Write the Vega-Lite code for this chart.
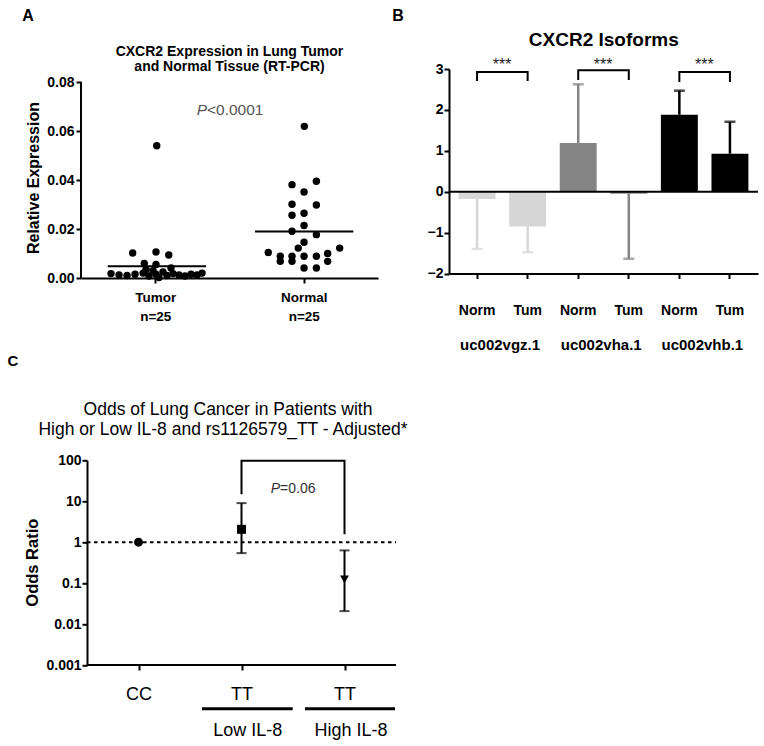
{
  "$schema": "https://vega.github.io/schema/vega-lite/v6.json",
  "padding": 0,
  "bounds": "flush",
  "spacing": 391.3,
  "config": {
    "font": "Liberation Sans",
    "view": {"stroke": null},
    "axis": {"domainColor": "black", "tickColor": "black", "labelColor": "black", "grid": false, "domainWidth": 2, "tickWidth": 2, "labelFont": "Liberation Sans"},
    "text": {"font": "Liberation Sans", "color": "black"}
  },
  "vconcat": [
    {
      "bounds": "flush",
      "spacing": 71,
      "hconcat": [
        {
          "width": 297,
          "height": 209,
          "data": {"values": [
            {"group": "Tumor", "pos": 1.01, "value": 0.054},
            {"group": "Tumor", "pos": 0.848, "value": 0.0102},
            {"group": "Tumor", "pos": 1.005, "value": 0.0106},
            {"group": "Tumor", "pos": 1.091, "value": 0.0094},
            {"group": "Tumor", "pos": 0.926, "value": 0.0059},
            {"group": "Tumor", "pos": 1.005, "value": 0.0055},
            {"group": "Tumor", "pos": 1.106, "value": 0.0041},
            {"group": "Tumor", "pos": 0.702, "value": 0.0018},
            {"group": "Tumor", "pos": 0.756, "value": 0.0012},
            {"group": "Tumor", "pos": 0.81, "value": 0.001},
            {"group": "Tumor", "pos": 0.864, "value": 0.0015},
            {"group": "Tumor", "pos": 0.918, "value": 0.002},
            {"group": "Tumor", "pos": 0.958, "value": 0.0008},
            {"group": "Tumor", "pos": 0.985, "value": 0.003},
            {"group": "Tumor", "pos": 1.005, "value": 0.0015},
            {"group": "Tumor", "pos": 1.025, "value": 0.0002},
            {"group": "Tumor", "pos": 1.052, "value": 0.0025},
            {"group": "Tumor", "pos": 1.079, "value": 0.001},
            {"group": "Tumor", "pos": 1.12, "value": 0.0018},
            {"group": "Tumor", "pos": 1.16, "value": 0.0012},
            {"group": "Tumor", "pos": 1.2, "value": 0.0008},
            {"group": "Tumor", "pos": 1.241, "value": 0.0015},
            {"group": "Tumor", "pos": 1.281, "value": 0.0012},
            {"group": "Tumor", "pos": 1.315, "value": 0.002},
            {"group": "Tumor", "pos": 0.938, "value": 0.0035},
            {"group": "Normal", "pos": 2.004, "value": 0.0619},
            {"group": "Normal", "pos": 1.921, "value": 0.0381},
            {"group": "Normal", "pos": 2.085, "value": 0.0395},
            {"group": "Normal", "pos": 2.002, "value": 0.0351},
            {"group": "Normal", "pos": 1.921, "value": 0.0301},
            {"group": "Normal", "pos": 2.085, "value": 0.0298},
            {"group": "Normal", "pos": 1.921, "value": 0.0256},
            {"group": "Normal", "pos": 2.002, "value": 0.0264},
            {"group": "Normal", "pos": 2.002, "value": 0.0214},
            {"group": "Normal", "pos": 1.921, "value": 0.0191},
            {"group": "Normal", "pos": 2.085, "value": 0.0177},
            {"group": "Normal", "pos": 2.002, "value": 0.0146},
            {"group": "Normal", "pos": 1.963, "value": 0.0122},
            {"group": "Normal", "pos": 2.242, "value": 0.0122},
            {"group": "Normal", "pos": 1.761, "value": 0.0104},
            {"group": "Normal", "pos": 1.842, "value": 0.0089},
            {"group": "Normal", "pos": 1.842, "value": 0.0068},
            {"group": "Normal", "pos": 1.921, "value": 0.0089},
            {"group": "Normal", "pos": 1.921, "value": 0.0068},
            {"group": "Normal", "pos": 2.002, "value": 0.0089},
            {"group": "Normal", "pos": 2.085, "value": 0.0089},
            {"group": "Normal", "pos": 2.161, "value": 0.01},
            {"group": "Normal", "pos": 2.161, "value": 0.0068},
            {"group": "Normal", "pos": 2.002, "value": 0.0041},
            {"group": "Normal", "pos": 2.085, "value": 0.0041}
          ]},
          "layer": [
            {
              "mark": {"type": "circle", "size": 55, "color": "black", "opacity": 1},
              "encoding": {
                "x": {"field": "pos", "type": "quantitative", "scale": {"domain": [0.5, 2.5], "nice": false, "zero": false},
                  "axis": {"values": [1, 2], "title": null, "labelExpr": "datum.value == 1 ? ['Tumor','n=25'] : ['Normal','n=25']", "labelFontSize": 13.5, "labelFontWeight": "bold", "labelPadding": 7, "labelLineHeight": 19.5, "tickSize": 5, "labelOverlap": false, "labelFlush": false}},
                "y": {"field": "value", "type": "quantitative", "scale": {"domain": [0, 0.08531], "nice": false, "zero": false},
                  "axis": {"values": [0, 0.02, 0.04, 0.06, 0.08], "format": ".2f", "title": null, "domain": false, "tickSize": 5, "labelFontSize": 14, "labelFontWeight": "bold", "labelPadding": 2}}
              }
            },
            {
              "data": {"values": [{}]},
              "mark": {"type": "point", "size": 1, "opacity": 0, "filled": true},
              "encoding": {"x": {"datum": -0.0387}, "y": {"datum": 0.11306}}
            },
            {
              "data": {"values": [{}]},
              "mark": {"type": "rule", "strokeWidth": 2, "color": "black"},
              "encoding": {"x": {"datum": 0.5}, "y": {"datum": 0}, "y2": {"datum": 0.08}}
            },
            {
              "data": {"values": [{}]},
              "mark": {"type": "rule", "strokeWidth": 2, "color": "black"},
              "encoding": {"x": {"datum": 0.68}, "x2": {"datum": 1.342}, "y": {"datum": 0.0048}}
            },
            {
              "data": {"values": [{}]},
              "mark": {"type": "rule", "strokeWidth": 2, "color": "black"},
              "encoding": {"x": {"datum": 1.672}, "x2": {"datum": 2.334}, "y": {"datum": 0.019}}
            },
            {
              "data": {"values": [{}]},
              "mark": {"type": "text", "text": "P", "fontStyle": "italic", "fontSize": 15.5, "align": "right", "baseline": "middle", "color": "#555555"},
              "encoding": {"x": {"datum": 1.3485}, "y": {"datum": 0.06845}}
            },
            {
              "data": {"values": [{}]},
              "mark": {"type": "text", "text": "<0.0001", "fontSize": 15.5, "align": "left", "baseline": "middle", "color": "#555555"},
              "encoding": {"x": {"datum": 1.3485}, "y": {"datum": 0.06845}}
            },
            {
              "data": {"values": [{}]},
              "mark": {"type": "text", "text": "CXCR2 Expression in Lung Tumor", "fontSize": 14, "fontWeight": "bold", "align": "center", "baseline": "middle"},
              "encoding": {"x": {"datum": 1.5}, "y": {"datum": 0.09225}}
            },
            {
              "data": {"values": [{}]},
              "mark": {"type": "text", "text": "and Normal Tissue (RT-PCR)", "fontSize": 14, "fontWeight": "bold", "align": "center", "baseline": "middle"},
              "encoding": {"x": {"datum": 1.5}, "y": {"datum": 0.08612}}
            },
            {
              "data": {"values": [{}]},
              "mark": {"type": "text", "text": "Relative Expression", "fontSize": 16, "fontWeight": "bold", "align": "center", "baseline": "middle", "angle": 270},
              "encoding": {"x": {"datum": 0.1835}, "y": {"datum": 0.0408}}
            },
            {
              "data": {"values": [{}]},
              "mark": {"type": "text", "text": "A", "fontSize": 16, "fontWeight": "bold", "align": "center", "baseline": "middle"},
              "encoding": {"x": {"datum": 0.143}, "y": {"datum": 0.10694}}
            }
          ]
        },
        {
          "width": 309,
          "height": 204.5,
          "data": {"values": [
            {"bar": "uc002vgz.1 Norm", "group": "uc002vgz.1", "value": -0.18, "err": -1.4},
            {"bar": "uc002vgz.1 Tum", "group": "uc002vgz.1", "value": -0.85, "err": -1.48},
            {"bar": "uc002vha.1 Norm", "group": "uc002vha.1", "value": 1.19, "err": 2.63},
            {"bar": "uc002vha.1 Tum", "group": "uc002vha.1", "value": -0.05, "err": -1.64},
            {"bar": "uc002vhb.1 Norm", "group": "uc002vhb.1", "value": 1.88, "err": 2.47},
            {"bar": "uc002vhb.1 Tum", "group": "uc002vhb.1", "value": 0.93, "err": 1.71}
          ]},
          "layer": [
            {
              "mark": {"type": "bar"},
              "encoding": {
                "x": {"field": "bar", "type": "nominal", "sort": null,
                  "scale": {"type": "band", "domain": ["uc002vgz.1 Norm", "uc002vgz.1 Tum", "uc002vha.1 Norm", "uc002vha.1 Tum", "uc002vhb.1 Norm", "uc002vhb.1 Tum"], "paddingInner": 0.27, "paddingOuter": 0.19},
                  "axis": {"title": null, "labelExpr": "split(datum.label, ' ')[1]", "labelAngle": 0, "labelFontSize": 14, "labelFontWeight": "bold", "labelPadding": 24.5, "tickSize": 5}},
                "y": {"field": "value", "type": "quantitative", "scale": {"domain": [-2, 3], "nice": false, "zero": false},
                  "axis": {"values": [-2, -1, 0, 1, 2, 3], "title": null, "tickSize": 5, "labelFontSize": 14, "labelFontWeight": "bold", "labelPadding": 1}},
                "color": {"field": "group", "type": "nominal", "legend": null,
                  "scale": {"domain": ["uc002vgz.1", "uc002vha.1", "uc002vhb.1"], "range": ["#d6d6d6", "#858585", "#000000"]}}
              }
            },
            {
              "mark": {"type": "rule", "strokeWidth": 2.5},
              "encoding": {
                "x": {"field": "bar", "type": "nominal"},
                "y": {"field": "value", "type": "quantitative"},
                "y2": {"field": "err"},
                "color": {"field": "group", "type": "nominal"}
              }
            },
            {
              "mark": {"type": "tick", "size": 11, "thickness": 2.5, "orient": "horizontal"},
              "encoding": {
                "x": {"field": "bar", "type": "nominal"},
                "y": {"field": "err", "type": "quantitative"},
                "color": {"field": "group", "type": "nominal"}
              }
            },
            {
              "data": {"values": [{}]},
              "mark": {"type": "rule", "strokeWidth": 2, "color": "black"},
              "encoding": {"y": {"datum": 0}}
            },
            {
              "data": {"values": [
                {"b": 1, "o": 1, "bar": "uc002vgz.1 Norm", "y": 2.707},
                {"b": 1, "o": 2, "bar": "uc002vgz.1 Norm", "y": 2.927},
                {"b": 1, "o": 3, "bar": "uc002vgz.1 Tum", "y": 2.927},
                {"b": 1, "o": 4, "bar": "uc002vgz.1 Tum", "y": 2.707},
                {"b": 2, "o": 1, "bar": "uc002vha.1 Norm", "y": 2.731},
                {"b": 2, "o": 2, "bar": "uc002vha.1 Norm", "y": 2.968},
                {"b": 2, "o": 3, "bar": "uc002vha.1 Tum", "y": 2.968},
                {"b": 2, "o": 4, "bar": "uc002vha.1 Tum", "y": 2.731},
                {"b": 3, "o": 1, "bar": "uc002vhb.1 Norm", "y": 2.682},
                {"b": 3, "o": 2, "bar": "uc002vhb.1 Norm", "y": 2.927},
                {"b": 3, "o": 3, "bar": "uc002vhb.1 Tum", "y": 2.927},
                {"b": 3, "o": 4, "bar": "uc002vhb.1 Tum", "y": 2.682}
              ]},
              "mark": {"type": "line", "strokeWidth": 2, "color": "black"},
              "encoding": {
                "x": {"field": "bar", "type": "nominal"},
                "y": {"field": "y", "type": "quantitative"},
                "detail": {"field": "b"},
                "order": {"field": "o"}
              }
            },
            {
              "data": {"values": [{"bar": "uc002vgz.1 Norm"}, {"bar": "uc002vha.1 Norm"}, {"bar": "uc002vhb.1 Norm"}]},
              "mark": {"type": "text", "text": "***", "fontSize": 16, "dx": 25, "align": "center", "baseline": "middle", "color": "#222222"},
              "encoding": {"x": {"field": "bar", "type": "nominal"}, "y": {"datum": 3.1}}
            },
            {
              "data": {"values": [{"bar": "uc002vgz.1 Norm", "group": "uc002vgz.1"}, {"bar": "uc002vha.1 Norm", "group": "uc002vha.1"}, {"bar": "uc002vhb.1 Norm", "group": "uc002vhb.1"}]},
              "mark": {"type": "text", "fontSize": 15, "fontWeight": "bold", "dx": 23, "align": "center", "baseline": "middle", "color": "black"},
              "encoding": {"x": {"field": "bar", "type": "nominal"}, "y": {"datum": -3.75}, "text": {"field": "group"}}
            },
            {
              "data": {"values": [{}]},
              "mark": {"type": "text", "text": "CXCR2 Isoforms", "fontSize": 19, "fontWeight": "bold", "dx": -25, "align": "center", "baseline": "middle", "color": "black"},
              "encoding": {"x": {"datum": "uc002vha.1 Tum", "type": "nominal"}, "y": {"datum": 3.709}}
            },
            {
              "data": {"values": [{}]},
              "mark": {"type": "text", "text": "B", "fontSize": 16, "fontWeight": "bold", "dx": -79, "align": "center", "baseline": "middle", "color": "black"},
              "encoding": {"x": {"datum": "uc002vgz.1 Norm", "type": "nominal"}, "y": {"datum": 4.296}}
            }
          ]
        }
      ]
    },
    {
      "width": 315,
      "height": 204.7,
      "data": {"values": [
        {"group": "CC", "pos": 1, "or": 1, "lo": null, "hi": null},
        {"group": "TT Low IL-8", "pos": 2, "or": 2.06, "lo": 0.54, "hi": 9.0},
        {"group": "TT High IL-8", "pos": 3, "or": 0.123, "lo": 0.0207, "hi": 0.63}
      ]},
      "layer": [
        {
          "data": {"values": [{}]},
          "mark": {"type": "rule", "strokeWidth": 2, "color": "black", "strokeDash": [3.5, 3.5]},
          "encoding": {"x": {"datum": 0.5}, "x2": {"datum": 3.5}, "y": {"datum": 1}}
        },
        {
          "mark": {"type": "point", "filled": true, "size": 80, "opacity": 1, "color": "black"},
          "encoding": {
            "x": {"field": "pos", "type": "quantitative", "scale": {"domain": [0.4417, 3.5], "nice": false, "zero": false},
              "axis": {"values": [1, 2, 3], "title": null, "labelExpr": "datum.value == 1 ? 'CC' : 'TT'", "domain": false, "tickSize": 5, "labelFontSize": 18, "labelPadding": 15, "labelFlush": false, "labelOverlap": false}},
            "y": {"field": "or", "type": "quantitative", "scale": {"type": "log", "domain": [0.001, 100], "nice": false},
              "axis": {"values": [0.001, 0.01, 0.1, 1, 10, 100], "format": "~g", "title": null, "offset": -6, "tickSize": 5, "labelFontSize": 14, "labelFontWeight": "bold", "labelPadding": 1}},
            "shape": {"field": "group", "type": "nominal", "legend": null,
              "scale": {"domain": ["CC", "TT Low IL-8", "TT High IL-8"], "range": ["circle", "square", "triangle-down"]}}
          }
        },
        {
          "transform": [{"filter": "isValid(datum.lo)"}],
          "mark": {"type": "rule", "strokeWidth": 2, "color": "black"},
          "encoding": {"x": {"field": "pos", "type": "quantitative"}, "y": {"field": "lo", "type": "quantitative"}, "y2": {"field": "hi"}}
        },
        {
          "transform": [{"filter": "isValid(datum.lo)"}],
          "mark": {"type": "tick", "orient": "horizontal", "size": 10, "thickness": 2, "color": "black"},
          "encoding": {"x": {"field": "pos", "type": "quantitative"}, "y": {"field": "lo", "type": "quantitative"}}
        },
        {
          "transform": [{"filter": "isValid(datum.hi)"}],
          "mark": {"type": "tick", "orient": "horizontal", "size": 10, "thickness": 2, "color": "black"},
          "encoding": {"x": {"field": "pos", "type": "quantitative"}, "y": {"field": "hi", "type": "quantitative"}}
        },
        {
          "data": {"values": [{}]},
          "mark": {"type": "rule", "strokeWidth": 2, "color": "black"},
          "encoding": {"x": {"datum": 0.5}, "x2": {"datum": 3.5}, "y": {"datum": 0.001}}
        },
        {
          "data": {"values": [
            {"o": 1, "pos": 2, "y": 14.8},
            {"o": 2, "pos": 2, "y": 97},
            {"o": 3, "pos": 3, "y": 97},
            {"o": 4, "pos": 3, "y": 1.56}
          ]},
          "mark": {"type": "line", "strokeWidth": 2, "color": "black"},
          "encoding": {"x": {"field": "pos", "type": "quantitative"}, "y": {"field": "y", "type": "quantitative"}, "order": {"field": "o"}}
        },
        {
          "data": {"values": [{}]},
          "mark": {"type": "text", "text": "P", "fontStyle": "italic", "fontSize": 14, "align": "right", "baseline": "middle", "color": "#333333"},
          "encoding": {"x": {"datum": 2.374}, "y": {"datum": 19.57}}
        },
        {
          "data": {"values": [{}]},
          "mark": {"type": "text", "text": "=0.06", "fontSize": 14, "align": "left", "baseline": "middle", "color": "#333333"},
          "encoding": {"x": {"datum": 2.374}, "y": {"datum": 19.57}}
        },
        {
          "data": {"values": [{}]},
          "mark": {"type": "text", "text": "Odds of Lung Cancer in Patients with", "fontSize": 17.5, "align": "center", "baseline": "middle"},
          "encoding": {"x": {"datum": 1.869}, "y": {"datum": 1663}}
        },
        {
          "data": {"values": [{}]},
          "mark": {"type": "text", "text": "High or Low IL-8 and rs1126579_TT - Adjusted*", "fontSize": 17.5, "align": "center", "baseline": "middle"},
          "encoding": {"x": {"datum": 1.82}, "y": {"datum": 549.6}}
        },
        {
          "data": {"values": [{}]},
          "mark": {"type": "text", "text": "Odds Ratio", "fontSize": 16.5, "fontWeight": "bold", "align": "center", "baseline": "middle", "angle": 270},
          "encoding": {"x": {"datum": -0.0214}, "y": {"datum": 0.3155}}
        },
        {
          "data": {"values": [{}]},
          "mark": {"type": "text", "text": "C", "fontSize": 15, "fontWeight": "bold", "align": "center", "baseline": "middle"},
          "encoding": {"x": {"datum": -0.2184}, "y": {"datum": 26640}}
        },
        {
          "data": {"values": [{}]},
          "mark": {"type": "rule", "strokeWidth": 3, "color": "black"},
          "encoding": {"x": {"datum": 1.6165}, "x2": {"datum": 2.497}, "y": {"datum": 0.0000857}}
        },
        {
          "data": {"values": [{}]},
          "mark": {"type": "rule", "strokeWidth": 3, "color": "black"},
          "encoding": {"x": {"datum": 2.6165}, "x2": {"datum": 3.4903}, "y": {"datum": 0.0000857}}
        },
        {
          "data": {"values": [{}]},
          "mark": {"type": "text", "text": "Low IL-8", "fontSize": 18, "align": "center", "baseline": "middle"},
          "encoding": {"x": {"datum": 2.06}, "y": {"datum": 0.0000244}}
        },
        {
          "data": {"values": [{}]},
          "mark": {"type": "text", "text": "High IL-8", "fontSize": 18, "align": "center", "baseline": "middle"},
          "encoding": {"x": {"datum": 3.063}, "y": {"datum": 0.0000244}}
        }
      ]
    }
  ]
}
